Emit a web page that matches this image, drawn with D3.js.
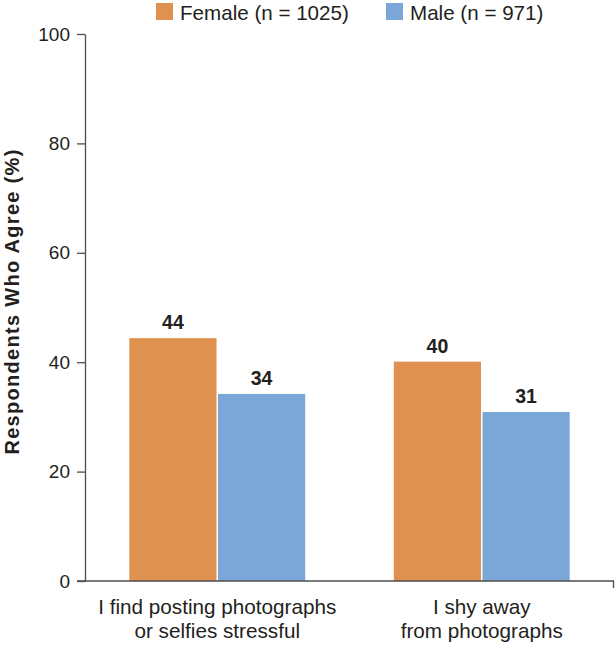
<!DOCTYPE html>
<html>
<head>
<meta charset="utf-8">
<script src="https://cdn.jsdelivr.net/npm/d3@7"></script>
<style>
  body { margin: 0; background: #fff; }
  text { font-family: "Liberation Sans", Arial, sans-serif; fill: #231f20; }
</style>
</head>
<body>
<script>
const categories = [
  ['I find posting photographs', 'or selfies stressful'],
  ['I shy away', 'from photographs']
];
const series = ['Female (n = 1025)', 'Male (n = 971)'];
const female = [44.4, 40.1];
const male = [34.2, 30.9];
const labels = [[44, 34], [40, 31]];
const yTicks = [0, 20, 40, 60, 80, 100];
const colors = ['#df914f', '#7aa7d8'];

const chartWidth = 615;
const chartHeight = 645;
const margin = { top: 34, right: 1, bottom: 64, left: 85 };
const width = chartWidth - margin.left - margin.right;
const height = chartHeight - margin.top - margin.bottom;

const svg = d3.select('body')
  .append('svg')
  .attr('width', chartWidth)
  .attr('height', chartHeight)
  .append('g')
  .attr('transform', 'translate(' + margin.left + ',' + margin.top + ')');

const scalaY = d3.scaleLinear()
  .domain([0, 100])
  .range([height, 0]);

const scalaX = d3.scaleBand()
  .domain(d3.range(categories.length))
  .range([0, width])
  .paddingInner(0.335)
  .paddingOuter(0.1675);

const scalaS = d3.scaleBand()
  .domain(series)
  .range([0, scalaX.bandwidth()])
  .paddingInner(0.017);

const data = categories.map((c, i) => ({
  i,
  values: [
    { s: series[0], v: female[i], lab: labels[i][0], color: colors[0] },
    { s: series[1], v: male[i], lab: labels[i][1], color: colors[1] }
  ]
}));

// y axis
const yAxis = d3.axisLeft(scalaY)
  .tickValues(yTicks)
  .tickSize(8)
  .tickSizeOuter(0)
  .tickPadding(7);

const gy = svg.append('g').attr('class', 'y axis').call(yAxis);
gy.select('.domain').attr('stroke', '#4d4d4d').attr('stroke-width', 1.3);
gy.selectAll('.tick line').attr('stroke', '#4d4d4d').attr('stroke-width', 1.3);
gy.selectAll('.tick text')
  .attr('font-size', 19)
  .attr('font-family', '"Liberation Sans", Arial, sans-serif')
  .attr('fill', '#231f20');

// bars
const groups = svg.selectAll('.grp')
  .data(data)
  .enter()
  .append('g')
  .attr('class', 'grp')
  .attr('transform', (d) => 'translate(' + scalaX(d.i) + ',0)');

groups.selectAll('rect')
  .data((d) => d.values)
  .enter()
  .append('rect')
  .attr('x', (d) => scalaS(d.s))
  .attr('width', scalaS.bandwidth())
  .attr('y', (d) => scalaY(d.v))
  .attr('height', (d) => height - scalaY(d.v))
  .attr('fill', (d) => d.color);

groups.selectAll('.val')
  .data((d) => d.values)
  .enter()
  .append('text')
  .attr('class', 'val')
  .attr('x', (d) => scalaS(d.s) + scalaS.bandwidth() / 2)
  .attr('y', (d) => scalaY(d.v) - 9)
  .attr('text-anchor', 'middle')
  .attr('font-size', 19.5)
  .attr('font-weight', 'bold')
  .text((d) => d.lab);

// x baseline
svg.append('line')
  .attr('x1', -8)
  .attr('x2', width)
  .attr('y1', scalaY(0))
  .attr('y2', scalaY(0))
  .attr('stroke', '#4d4d4d')
  .attr('stroke-width', 1.3);
svg.append('line')
  .attr('x1', width - 0.5)
  .attr('x2', width - 0.5)
  .attr('y1', scalaY(0))
  .attr('y2', scalaY(0) + 7)
  .attr('stroke', '#4d4d4d')
  .attr('stroke-width', 1.3);

// category labels
svg.selectAll('.cat')
  .data(categories)
  .enter()
  .append('text')
  .attr('class', 'cat')
  .attr('text-anchor', 'middle')
  .attr('font-size', 20.7)
  .attr('transform', (d, i) => 'translate(' + (scalaX(i) + scalaX.bandwidth() / 2) + ',' + (height + 33) + ')')
  .selectAll('tspan')
  .data((d) => d)
  .enter()
  .append('tspan')
  .attr('x', 0)
  .attr('dy', (d, j) => j === 0 ? 0 : 24)
  .text((d) => d);

// y title
svg.append('text')
  .attr('transform', 'translate(' + (-margin.left + 19) + ',' + (height / 2 - 6) + ') rotate(-90)')
  .attr('text-anchor', 'middle')
  .attr('font-size', 20)
  .attr('font-weight', 'bold')
  .attr('letter-spacing', 1.3)
  .text('Respondents Who Agree (%)');

// legend
const legend = svg.append('g')
  .attr('transform', 'translate(' + (156 - margin.left) + ',' + (-margin.top) + ')');
const legX = [0, 230];
series.forEach((s, i) => {
  legend.append('rect')
    .attr('x', legX[i])
    .attr('y', 3)
    .attr('width', 17)
    .attr('height', 17)
    .attr('fill', colors[i]);
  legend.append('text')
    .attr('x', legX[i] + 24)
    .attr('y', 20)
    .attr('font-size', 20.6)
    .text(s);
});
</script>
</body>
</html>
